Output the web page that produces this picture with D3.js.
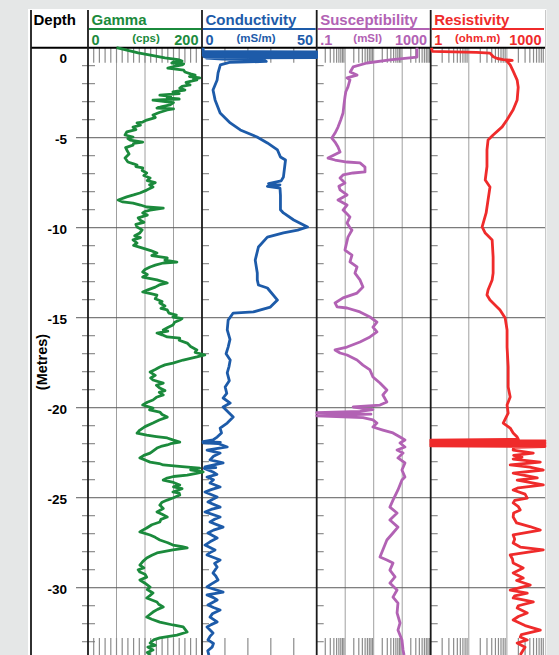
<!DOCTYPE html>
<html>
<head>
<meta charset="utf-8">
<script src="https://cdn.jsdelivr.net/npm/d3@7"></script>
<style>
body { margin: 0; background: #e5e7e7; }
svg { display: block; font-family: "Liberation Sans", Arial, sans-serif; }
</style>
</head>
<body>
<div id="log"></div>
<script>
const gammaDepth = [0, 0.15, 0.29, 0.43, 0.57, 0.66, 0.74, 0.8, 0.85, 0.9, 0.96, 1.05, 1.13, 1.25, 1.35, 1.45, 1.52, 1.6, 1.68, 1.74, 1.79, 1.93, 2.07, 2.15, 2.24, 2.35, 2.46, 2.55, 2.63, 2.7, 2.79, 2.85, 2.91, 3.05, 3.18, 3.27, 3.35, 3.4, 3.46, 3.6, 3.74, 3.88, 4.02, 4.13, 4.18, 4.3, 4.41, 4.55, 4.68, 4.85, 4.96, 5.05, 5.13, 5.24, 5.32, 5.41, 5.55, 5.68, 5.9, 6.13, 6.35, 6.45, 6.52, 6.6, 6.68, 6.82, 6.96, 7.1, 7.24, 7.38, 7.5, 7.62, 7.74, 7.91, 8.07, 8.18, 8.29, 8.46, 8.57, 8.63, 8.74, 8.85, 8.91, 9.02, 9.1, 9.18, 9.3, 9.45, 9.57, 9.7, 9.82, 9.96, 10.12, 10.29, 10.45, 10.55, 10.68, 10.85, 10.98, 11.13, 11.27, 11.41, 11.55, 11.68, 11.8, 11.91, 11.96, 12.08, 12.18, 12.32, 12.46, 12.6, 12.74, 12.9, 13.07, 13.18, 13.3, 13.45, 13.57, 13.66, 13.74, 13.95, 14.1, 14.18, 14.35, 14.48, 14.57, 14.75, 14.85, 14.96, 15.05, 15.13, 15.25, 15.41, 15.55, 15.68, 15.75, 15.85, 15.95, 16.07, 16.13, 16.25, 16.41, 16.6, 16.79, 16.92, 17.07, 17.18, 17.35, 17.52, 17.62, 17.74, 17.88, 18.02, 18.2, 18.35, 18.46, 18.63, 18.75, 18.91, 19.05, 19.15, 19.29, 19.42, 19.57, 19.7, 19.85, 20.02, 20.12, 20.24, 20.38, 20.52, 20.68, 20.85, 21.05, 21.24, 21.41, 21.52, 21.6, 21.68, 21.8, 21.91, 22.0, 22.07, 22.15, 22.24, 22.38, 22.52, 22.65, 22.79, 22.9, 23.02, 23.1, 23.18, 23.27, 23.35, 23.45, 23.57, 23.65, 23.74, 23.82, 23.91, 24.02, 24.15, 24.29, 24.4, 24.5, 24.68, 24.75, 24.85, 25.0, 25.13, 25.25, 25.41, 25.6, 25.79, 25.92, 26.07, 26.2, 26.35, 26.5, 26.68, 26.8, 26.9, 27.07, 27.2, 27.35, 27.5, 27.63, 27.72, 27.79, 27.9, 28.07, 28.2, 28.35, 28.55, 28.74, 28.9, 29.0, 29.13, 29.25, 29.41, 29.57, 29.75, 29.96, 30.1, 30.29, 30.45, 30.57, 30.68, 30.79, 30.92, 31.07, 31.2, 31.35, 31.5, 31.63, 31.75, 31.91, 32.07, 32.18, 32.3, 32.46, 32.63, 32.79, 32.9, 33.07, 33.2, 33.3, 33.46, 33.6, 33.74];
const gammaCps = [50, 70, 88, 112, 135, 158, 165, 150, 147, 168, 165, 150, 140, 168, 170, 180, 188, 178, 196, 185, 191, 172, 179, 165, 161, 170, 149, 160, 126, 145, 139, 160, 114, 150, 144, 130, 121, 150, 139, 125, 114, 118, 103, 96, 86, 92, 79, 84, 68, 65, 79, 70, 74, 96, 80, 79, 66, 68, 72, 65, 70, 80, 86, 84, 96, 95, 103, 98, 109, 104, 118, 108, 114, 103, 91, 80, 68, 53, 61, 79, 92, 103, 132, 109, 100, 96, 104, 88, 91, 98, 84, 86, 95, 91, 82, 92, 79, 86, 80, 96, 110, 121, 112, 139, 135, 156, 132, 118, 109, 100, 96, 104, 96, 121, 139, 125, 118, 105, 96, 110, 121, 118, 130, 126, 135, 128, 139, 142, 155, 149, 165, 161, 152, 149, 140, 132, 140, 121, 130, 139, 161, 160, 174, 180, 191, 188, 205, 191, 167, 149, 135, 126, 118, 109, 118, 110, 114, 132, 120, 126, 135, 125, 132, 120, 114, 104, 96, 114, 108, 126, 130, 139, 125, 114, 100, 91, 86, 103, 120, 139, 150, 161, 145, 139, 128, 121, 115, 109, 98, 91, 100, 109, 125, 132, 165, 196, 180, 202, 190, 174, 150, 139, 132, 150, 161, 150, 165, 149, 160, 161, 150, 139, 130, 126, 132, 121, 130, 139, 128, 126, 112, 103, 96, 91, 109, 118, 126, 140, 149, 165, 174, 149, 121, 112, 103, 96, 91, 98, 88, 91, 100, 103, 91, 100, 109, 104, 114, 108, 103, 112, 121, 124, 132, 122, 114, 108, 103, 112, 126, 149, 167, 170, 174, 156, 126, 115, 109, 118, 105, 114, 104, 109];

const condDepth = [0, 0.2, 0.23, 0.27, 0.31, 0.35, 0.39, 0.43, 0.47, 0.51, 0.55, 0.58, 0.64, 0.68, 0.76, 0.82, 0.95, 1.4, 1.79, 2.35, 2.9, 3.63, 4.18, 4.57, 4.96, 5.29, 5.68, 6.07, 6.24, 7.18, 7.4, 7.55, 7.62, 7.7, 7.8, 8.2, 9.0, 9.18, 9.57, 9.96, 10.13, 10.29, 10.52, 11.07, 11.8, 12.52, 12.9, 13.18, 13.35, 14.02, 14.41, 14.68, 14.74, 15.13, 15.68, 16.2, 16.63, 17.0, 17.35, 17.7, 18.07, 18.5, 18.85, 19.2, 19.46, 19.74, 19.96, 20.25, 20.52, 20.85, 21.13, 21.4, 21.63, 21.79, 21.88, 21.92, 21.95, 21.99, 22.18, 22.35, 22.52, 22.7, 22.9, 23.07, 23.29, 23.33, 23.37, 23.57, 23.7, 23.85, 24.0, 24.18, 24.4, 24.55, 24.68, 24.96, 25.1, 25.24, 25.52, 25.65, 25.79, 26.07, 26.2, 26.35, 26.63, 26.8, 26.96, 27.24, 27.45, 27.63, 27.9, 28.05, 28.18, 28.46, 28.65, 28.85, 29.18, 29.35, 29.57, 29.8, 29.96, 30.24, 30.4, 30.55, 30.68, 30.96, 31.1, 31.24, 31.45, 31.63, 31.9, 32.05, 32.18, 32.52, 32.7, 32.9, 33.1, 33.3, 33.5, 33.74];
const condMs = [0.5, 0.5, 50, 0.5, 50, 0.5, 50, 0.5, 50, 1, 50, 2, 9, 27, 28, 12, 8, 7, 6.6, 4.8, 5.7, 7.9, 12.3, 16.7, 24, 28.5, 32.9, 34.2, 36.4, 35.5, 34.5, 29, 34, 28.5, 34, 34.2, 34.2, 35.5, 40, 46, 41.7, 35.5, 28.5, 24.6, 23.2, 24.1, 24.1, 24.6, 28.5, 32.9, 29.8, 22.4, 13.6, 11.4, 11, 12.2, 11.4, 10.5, 12.3, 11.8, 11, 11.9, 10.1, 10.8, 9.2, 12.3, 9.2, 11.5, 13.6, 11, 7.9, 8.5, 6.6, 4.8, 0.4, 8, 0.5, 7, 11, 2.2, 7.9, 5, 3.5, 9.2, 1.3, 6, 1, 4.8, 6.5, 2.2, 5, 3.5, 7.9, 4, 1.3, 6.6, 4.5, 2.6, 7.9, 4, 1.3, 7.9, 5.5, 3.5, 9.2, 5, 2.6, 6.6, 3.5, 1.3, 5.7, 3.5, 2.2, 7.9, 5.5, 6.6, 4.8, 6, 7, 4, 2.2, 9.2, 2.2, 5, 6.6, 2.6, 5, 7.9, 4.5, 3.5, 6.6, 4, 2.2, 4.8, 3.5, 2.6, 5, 4.4, 2.5, 3];

const suscDepth = [0, 0.52, 0.68, 0.85, 1.07, 1.35, 1.52, 1.68, 1.79, 2.18, 2.45, 2.74, 3.2, 3.63, 4.0, 4.41, 4.74, 5.02, 5.24, 5.52, 5.79, 6.13, 6.24, 6.35, 6.4, 6.63, 6.9, 6.96, 7.07, 7.24, 7.52, 7.7, 7.9, 8.18, 8.46, 8.74, 9.02, 9.2, 9.4, 9.74, 9.95, 10.13, 10.52, 10.9, 11.24, 11.52, 11.9, 12.18, 12.52, 12.9, 13.29, 13.63, 13.9, 14.18, 14.4, 14.46, 14.68, 14.96, 15.24, 15.52, 15.79, 16.07, 16.35, 16.63, 16.79, 16.96, 17.07, 17.35, 17.63, 17.9, 18.29, 18.63, 19.02, 19.29, 19.68, 19.85, 19.96, 20.1, 20.2, 20.28, 20.36, 20.45, 20.55, 20.68, 20.85, 21.07, 21.24, 21.4, 21.63, 21.79, 21.96, 22.18, 22.35, 22.52, 22.79, 23.07, 23.46, 23.85, 24.02, 24.57, 25.13, 25.52, 25.85, 26.24, 26.63, 26.96, 27.35, 28.29, 28.46, 28.63, 29.02, 29.4, 29.74, 30.13, 30.52, 30.85, 31.4, 31.96, 32.35, 32.9, 33.46, 33.74];
const suscMsi = [330, 330, 37, 5.8, 1.9, 1.5, 2.6, 1.16, 1.47, 1.25, 1.05, 0.98, 0.9, 0.84, 0.7, 0.56, 0.44, 0.34, 0.44, 0.56, 0.66, 0.25, 0.44, 1.16, 3.3, 4.95, 4.95, 1.9, 0.84, 0.66, 0.98, 0.6, 0.66, 1.16, 0.56, 1.16, 0.84, 1.1, 1.47, 1.16, 1.4, 1.73, 1.25, 1.1, 0.98, 1.73, 1.47, 2.6, 2.2, 3.3, 4.2, 2.6, 0.84, 0.44, 0.52, 1.16, 3.3, 7.4, 13, 9.4, 13, 7.4, 3.3, 1.16, 0.44, 0.66, 1.16, 2.6, 4.2, 7.4, 9.4, 16.6, 29, 21, 29, 16.6, 1.9, 9.4, 3.3, 0.1, 8, 0.1, 4.2, 9.4, 13, 9.4, 21, 47.5, 84, 125, 84, 125, 66, 107, 71, 125, 98, 125, 98, 71, 47.5, 37, 66, 37, 71, 47.5, 29, 16.6, 29, 47.5, 37, 56, 37, 66, 47.5, 71, 66, 84, 71, 98, 107, 116];

const resDepth = [0, 0.2, 0.26, 0.3, 0.5, 0.6, 0.66, 0.7, 0.74, 0.95, 1.3, 1.8, 2.2, 2.9, 3.45, 4.0, 4.4, 4.85, 5.13, 5.68, 6.6, 7.35, 7.74, 8.46, 9.18, 9.96, 10.3, 10.68, 11.63, 12.52, 12.9, 13.46, 13.74, 14.02, 14.57, 15.02, 15.68, 16.63, 17.74, 18.85, 19.4, 19.85, 20.3, 20.85, 21.13, 21.4, 21.63, 21.76, 21.8, 21.84, 21.88, 21.92, 21.96, 22.0, 22.04, 22.08, 22.12, 22.16, 22.2, 22.35, 22.52, 22.65, 22.74, 22.85, 23.02, 23.18, 23.3, 23.46, 23.63, 23.9, 24.02, 24.29, 24.45, 24.57, 24.8, 25.02, 25.15, 25.29, 25.5, 25.68, 25.85, 26.07, 26.4, 26.6, 26.8, 27.07, 27.3, 27.52, 27.74, 27.9, 28.18, 28.4, 28.63, 28.9, 29.18, 29.46, 29.6, 29.85, 30.13, 30.3, 30.45, 30.57, 30.79, 31.0, 31.13, 31.4, 31.6, 31.79, 32.1, 32.35, 32.6, 32.74, 32.9, 33.07, 33.3, 33.46, 33.74];
const resOhm = [1.05, 1.1, 16, 36, 44, 56, 80, 138, 100, 122, 146, 186, 198, 186, 146, 101, 75, 43.5, 32, 30, 30, 27, 36, 32, 28.5, 22.4, 27, 41, 43.5, 43.5, 41, 32, 30, 36, 66, 90, 101, 101, 108, 108, 122, 101, 108, 80, 122, 146, 186, 200, 1, 1000, 1, 1000, 1, 1000, 1, 1000, 1, 1000, 150, 146, 493, 150, 250, 146, 753, 122, 400, 902, 146, 627, 186, 902, 200, 146, 300, 342, 160, 146, 200, 224, 150, 146, 180, 400, 753, 146, 160, 146, 224, 902, 122, 140, 146, 268, 146, 268, 180, 410, 122, 342, 160, 146, 493, 200, 186, 342, 200, 146, 300, 753, 240, 224, 342, 186, 300, 268, 224];

const depthTicks = [0, 5, 10, 15, 20, 25, 30];
const trackNames = ["Gamma", "Conductivity", "Susceptibility", "Resistivity"];
const trackUnits = ["(cps)", "(mS/m)", "(mSI)", "(ohm.m)"];
const trackMin = ["0", "0", ".1", "1"];
const trackMax = ["200", "50", "1000", "1000"];
const trackColors = ["#1b8a3c", "#1d5ba9", "#b262b4", "#ef2b2b"];

const largeur = 559, hauteur = 655;
const xGauche = 31, yHaut = 10, yZero = 47.7;
const bords = [88, 202, 316.7, 430.7, 545];
const decalUnite = [58, 54, 51, 47];

const yDepth = d3.scaleLinear().domain([0, 33.72]).range([yZero, 654.7]);
const echelles = [
    d3.scaleLinear().domain([0, 200]).range([bords[0], bords[1]]),
    d3.scaleLinear().domain([0, 50]).range([bords[1], bords[2]]),
    d3.scaleLog().domain([0.1, 1000]).range([bords[2], bords[3]]),
    d3.scaleLog().domain([1, 1000]).range([bords[3], bords[4]])
];
const grilles = [[50, 100, 150], [], [1, 10, 100], [10, 100]];
const estDecade = v => Math.abs(Math.log10(v) - Math.round(Math.log10(v))) < 1e-6;
const petitsTraits = [
    d3.range(10, 200, 10),
    [10, 20, 30, 40],
    echelles[2].ticks().filter(v => !estDecade(v)),
    echelles[3].ticks().filter(v => !estDecade(v))
];

const svg = d3.select("#log").append("svg")
    .attr("width", largeur)
    .attr("height", hauteur);

svg.append("rect")
    .attr("x", 28).attr("y", 9)
    .attr("width", 518.5).attr("height", hauteur)
    .attr("fill", "white");

// grille verticale dans les pistes
grilles.forEach(function (g, i) {
    svg.selectAll(null).data(g).enter().append("line")
        .attr("x1", d => echelles[i](d)).attr("x2", d => echelles[i](d))
        .attr("y1", yZero).attr("y2", hauteur)
        .attr("stroke", "#a0a0a0").attr("stroke-width", 1);
});

// petits traits en haut et en bas
petitsTraits.forEach(function (t, i) {
    [[yZero, yZero + 15], [638, hauteur]].forEach(function (y) {
        svg.selectAll(null).data(t).enter().append("line")
            .attr("x1", d => echelles[i](d)).attr("x2", d => echelles[i](d))
            .attr("y1", y[0]).attr("y2", y[1])
            .attr("stroke", "#8c8c8c").attr("stroke-width", 1.2);
    });
});

// lignes horizontales tous les 5 m
svg.selectAll(null).data(depthTicks.slice(1)).enter().append("line")
    .attr("x1", 76).attr("x2", bords[4])
    .attr("y1", d => yDepth(d)).attr("y2", d => yDepth(d))
    .attr("stroke", "#5a5a5a").attr("stroke-width", 1);

// traits de metre
const metres = d3.range(1, 34).filter(m => m % 5 != 0);
bords.slice(0, 4).forEach(function (b, i) {
    svg.selectAll(null).data(metres).enter().append("line")
        .attr("x1", i == 0 ? b - 6 : b).attr("x2", b + 7)
        .attr("y1", d => yDepth(d)).attr("y2", d => yDepth(d))
        .attr("stroke", "#777").attr("stroke-width", 1);
});

// etiquettes de profondeur
svg.selectAll(null).data(depthTicks).enter().append("text")
    .attr("x", 67)
    .attr("y", d => (d == 0 ? yDepth(d) + 15.5 : yDepth(d) + 6.5))
    .attr("text-anchor", "end")
    .attr("font-size", 13.5).attr("font-weight", "bold")
    .text(d => (d == 0 ? "0" : "-" + d));

svg.append("text")
    .attr("transform", "translate(46.5,362) rotate(-90)")
    .attr("text-anchor", "middle")
    .attr("font-size", 14.5).attr("font-weight", "bold")
    .text("(Metres)");

svg.append("text")
    .attr("x", 33.5).attr("y", 25)
    .attr("font-size", 15).attr("font-weight", "bold")
    .text("Depth");

// en-tetes des pistes
trackNames.forEach(function (nom, i) {
    const c = trackColors[i];
    svg.append("text").attr("x", bords[i] + 3.5).attr("y", 25)
        .attr("font-size", 15).attr("font-weight", "bold").attr("fill", c)
        .text(nom);
    svg.append("line")
        .attr("x1", bords[i] + 1).attr("x2", bords[i + 1] - 1)
        .attr("y1", 29).attr("y2", 29)
        .attr("stroke", c).attr("stroke-width", 2);
    svg.append("text").attr("x", bords[i] + 3.5).attr("y", 44.5)
        .attr("font-size", 14.5).attr("font-weight", "bold").attr("fill", c)
        .text(trackMin[i]);
    svg.append("text").attr("x", bords[i + 1] - 3.5).attr("y", 44.5)
        .attr("text-anchor", "end")
        .attr("font-size", 14.5).attr("font-weight", "bold").attr("fill", c)
        .text(trackMax[i]);
    svg.append("text").attr("x", bords[i] + decalUnite[i]).attr("y", 42)
        .attr("text-anchor", "middle")
        .attr("font-size", 11.5).attr("font-weight", "bold").attr("fill", c)
        .text(trackUnits[i]);
});

// bordures
svg.append("line")
    .attr("x1", xGauche).attr("x2", bords[4])
    .attr("y1", yZero).attr("y2", yZero)
    .attr("stroke", "black").attr("stroke-width", 2);
[xGauche].concat(bords.slice(0, 4)).forEach(function (x) {
    svg.append("line")
        .attr("x1", x).attr("x2", x)
        .attr("y1", yHaut).attr("y2", hauteur)
        .attr("stroke", "#1a1a1a").attr("stroke-width", 1.8);
});
svg.append("line")
    .attr("x1", bords[4] + 0.5).attr("x2", bords[4] + 0.5)
    .attr("y1", yHaut).attr("y2", hauteur)
    .attr("stroke", "#c8c8c8").attr("stroke-width", 1);

// courbes
const series = [
    [gammaDepth, gammaCps],
    [condDepth, condMs],
    [suscDepth, suscMsi],
    [resDepth, resOhm]
];
series.forEach(function (s, i) {
    const points = s[0].map((p, k) => [p, s[1][k]]);
    const ligne = d3.line()
        .x(d => echelles[i](d[1]))
        .y(d => yDepth(d[0]));
    svg.append("path")
        .attr("d", ligne(points))
        .attr("fill", "none")
        .attr("stroke", trackColors[i])
        .attr("stroke-width", 2.8)
        .attr("stroke-linejoin", "round");
});
</script>
</body>
</html>
